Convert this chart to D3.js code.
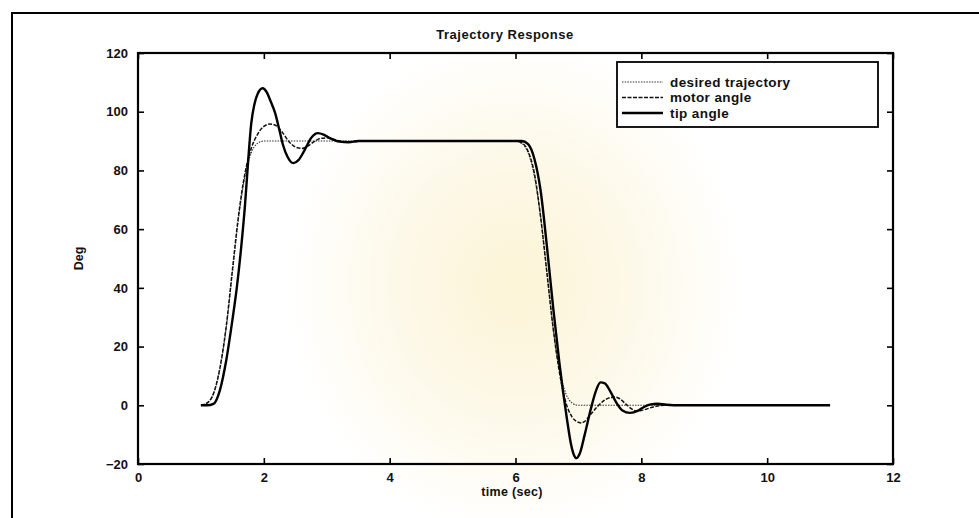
<!DOCTYPE html>
<html>
<head>
<meta charset="utf-8">
<script src="https://cdn.jsdelivr.net/npm/d3@7"></script>
<style>
  html, body { margin: 0; padding: 0; background: #fff; }
  svg { display: block; }
  text { font-family: "Liberation Sans", Arial, sans-serif; font-weight: bold; fill: #111; }
</style>
</head>
<body>
<svg id="chart" width="979" height="518"></svg>
<script>
// ---- data ----
const xTicks = [0, 2, 4, 6, 8, 10, 12];
const yTicks = [-20, 0, 20, 40, 60, 80, 100, 120];
const seriesNames = ["desired trajectory", "motor angle", "tip angle"];

const desired = [[1.0,0],[1.1,0.8],[1.2,4],[1.3,12],[1.4,26],[1.5,45],[1.6,64],[1.7,78],[1.8,86],[1.9,89.2],[2.0,90],
  [6.0,90],[6.1,89.2],[6.2,86],[6.3,78],[6.4,64],[6.5,45],[6.6,26],[6.7,12],[6.8,4],[6.9,0.8],[7.0,0],[11.0,0]];

const motor = [[1.0,0],[1.1,0.8],[1.2,4],[1.3,12.5],[1.4,26.5],[1.5,46],[1.6,65],[1.7,79],[1.8,87.5],[1.9,92.3],[2.0,95],
  [2.1,95.8],[2.2,95.2],[2.3,92.8],[2.4,89.8],[2.5,88],[2.6,87.5],[2.7,88.3],[2.8,89.8],[2.9,90.9],[3.0,91.1],[3.1,90.6],
  [3.25,89.9],[3.4,89.8],[3.6,90],[6.0,90],[6.1,89.4],[6.2,86.5],[6.3,79],[6.4,64],[6.5,45],[6.6,26],[6.7,11],[6.8,1],
  [6.9,-4],[7.0,-5.8],[7.05,-6],[7.1,-5.5],[7.2,-3],[7.3,-0.5],[7.4,1.5],[7.5,2.6],[7.58,2.8],[7.65,2.3],[7.75,0.5],
  [7.85,-1.3],[7.93,-2],[8.05,-1.5],[8.2,-0.5],[8.4,0],[11.0,0]];

const tip = [[1.0,0],[1.1,0],[1.2,0.5],[1.3,5],[1.4,15],[1.5,29],[1.57,40],[1.65,56],[1.7,68],[1.75,83],[1.8,96],
  [1.85,102.5],[1.9,106],[1.98,108],[2.05,106.5],[2.1,104],[2.18,99.5],[2.25,93.5],[2.3,89],[2.38,84.5],[2.47,82.5],
  [2.55,83.5],[2.65,87],[2.75,91],[2.86,92.7],[2.95,92.2],[3.05,91],[3.2,89.8],[3.35,89.6],[3.5,90],[6.0,90],[6.1,90],
  [6.2,89],[6.3,84],[6.4,73],[6.5,54],[6.6,33],[6.7,14],[6.76,4],[6.82,-5],[6.88,-13],[6.93,-17],[6.97,-18],[7.02,-16.5],
  [7.1,-10],[7.2,-1],[7.28,5],[7.35,7.8],[7.42,7.5],[7.5,5],[7.6,1],[7.7,-1.8],[7.82,-2.6],[7.95,-1.8],[8.05,-0.5],
  [8.15,0.3],[8.25,0.5],[8.4,0.2],[8.6,0],[11.0,0]];

// ---- layout ----
const svg = d3.select("#chart");
const L = 138, R = 893, T = 53, B = 464;

const x = d3.scaleLinear().domain([0, 12]).range([L, R]);
const y = d3.scaleLinear().domain([-20, 120]).range([B, T]);

// faint watermark glow (scan background)
const defs = svg.append("defs");
const rg = defs.append("radialGradient").attr("id", "wm");
rg.append("stop").attr("offset", "0%").attr("stop-color", "#fcf4d6");
rg.append("stop").attr("offset", "55%").attr("stop-color", "#fdf9ea");
rg.append("stop").attr("offset", "100%").attr("stop-color", "#ffffff");
svg.append("ellipse").attr("cx", 515).attr("cy", 285).attr("rx", 230).attr("ry", 250)
  .attr("fill", "url(#wm)");

// outer page frame (top and left)
svg.append("path").attr("d", "M12,518 L12,13 L979,13")
  .attr("fill", "none").attr("stroke", "#000").attr("stroke-width", 2);

// title
svg.append("text").attr("x", 505).attr("y", 39).attr("text-anchor", "middle")
  .attr("font-size", 13).attr("letter-spacing", 0.5).text("Trajectory Response");

// axes with inward ticks on all sides
const tickLen = 6;
const gAx = svg.append("g");
const xb = d3.axisBottom(x).tickValues(xTicks).tickSize(-tickLen).tickPadding(9).tickFormat(d3.format("d"));
const xt = d3.axisTop(x).tickValues(xTicks).tickSize(-tickLen).tickFormat("");
const yl = d3.axisLeft(y).tickValues(yTicks).tickSize(-tickLen).tickPadding(10).tickFormat(d3.format("d"));
const yr = d3.axisRight(y).tickValues(yTicks).tickSize(-tickLen).tickFormat("");

function styleAxis(g) {
  g.select(".domain").remove();
  g.selectAll(".tick line").attr("stroke", "#000").attr("stroke-width", 1.6);
  g.selectAll(".tick text").attr("font-size", 13).attr("fill", "#111")
    .style("font-family", "'Liberation Sans', Arial, sans-serif").style("font-weight", "bold");
}
gAx.append("g").attr("transform", `translate(0,${B})`).call(xb).call(styleAxis);
gAx.append("g").attr("transform", `translate(0,${T})`).call(xt).call(styleAxis);
gAx.append("g").attr("transform", `translate(${L},0)`).call(yl).call(styleAxis);
gAx.append("g").attr("transform", `translate(${R},0)`).call(yr).call(styleAxis);

// axes box
svg.append("rect").attr("x", L).attr("y", T).attr("width", R - L).attr("height", B - T)
  .attr("fill", "none").attr("stroke", "#000").attr("stroke-width", 2.2);

// axis labels
svg.append("text").attr("x", 512).attr("y", 496).attr("text-anchor", "middle")
  .attr("font-size", 12.5).attr("letter-spacing", 0.3).text("time (sec)");
svg.append("text").attr("transform", `translate(83,${(T + B) / 2}) rotate(-90)`)
  .attr("text-anchor", "middle").attr("font-size", 12.5).text("Deg");

// lines
const line = d3.line().x(d => x(d[0])).y(d => y(d[1])).curve(d3.curveMonotoneX);
const styles = [
  { data: desired, w: 1.1, dash: "1.5,1.2", color: "#333" },
  { data: motor, w: 1.5, dash: "4,1.5", color: "#111" },
  { data: tip, w: 2.4, dash: null, color: "#000" }
];
const gl = svg.append("g");
styles.forEach(s => {
  gl.append("path").datum(s.data).attr("d", line)
    .attr("fill", "none").attr("stroke", s.color).attr("stroke-width", s.w)
    .attr("stroke-dasharray", s.dash).attr("stroke-linejoin", "round");
});

// legend
const lg = svg.append("g");
const lx = 617, ly = 62, lw = 261, lh = 65;
lg.append("rect").attr("x", lx).attr("y", ly).attr("width", lw).attr("height", lh)
  .attr("fill", "#fff").attr("stroke", "#000").attr("stroke-width", 1.8);
const rowY = [82, 97.5, 113];
seriesNames.forEach((name, i) => {
  const s = styles[i];
  lg.append("line").attr("x1", lx + 5).attr("x2", lx + 46).attr("y1", rowY[i]).attr("y2", rowY[i])
    .attr("stroke", s.color).attr("stroke-width", s.w).attr("stroke-dasharray", s.dash);
  lg.append("text").attr("x", lx + 53).attr("y", rowY[i] + 4.5).attr("font-size", 13.5)
    .attr("letter-spacing", 0.4).text(name);
});
</script>
</body>
</html>
